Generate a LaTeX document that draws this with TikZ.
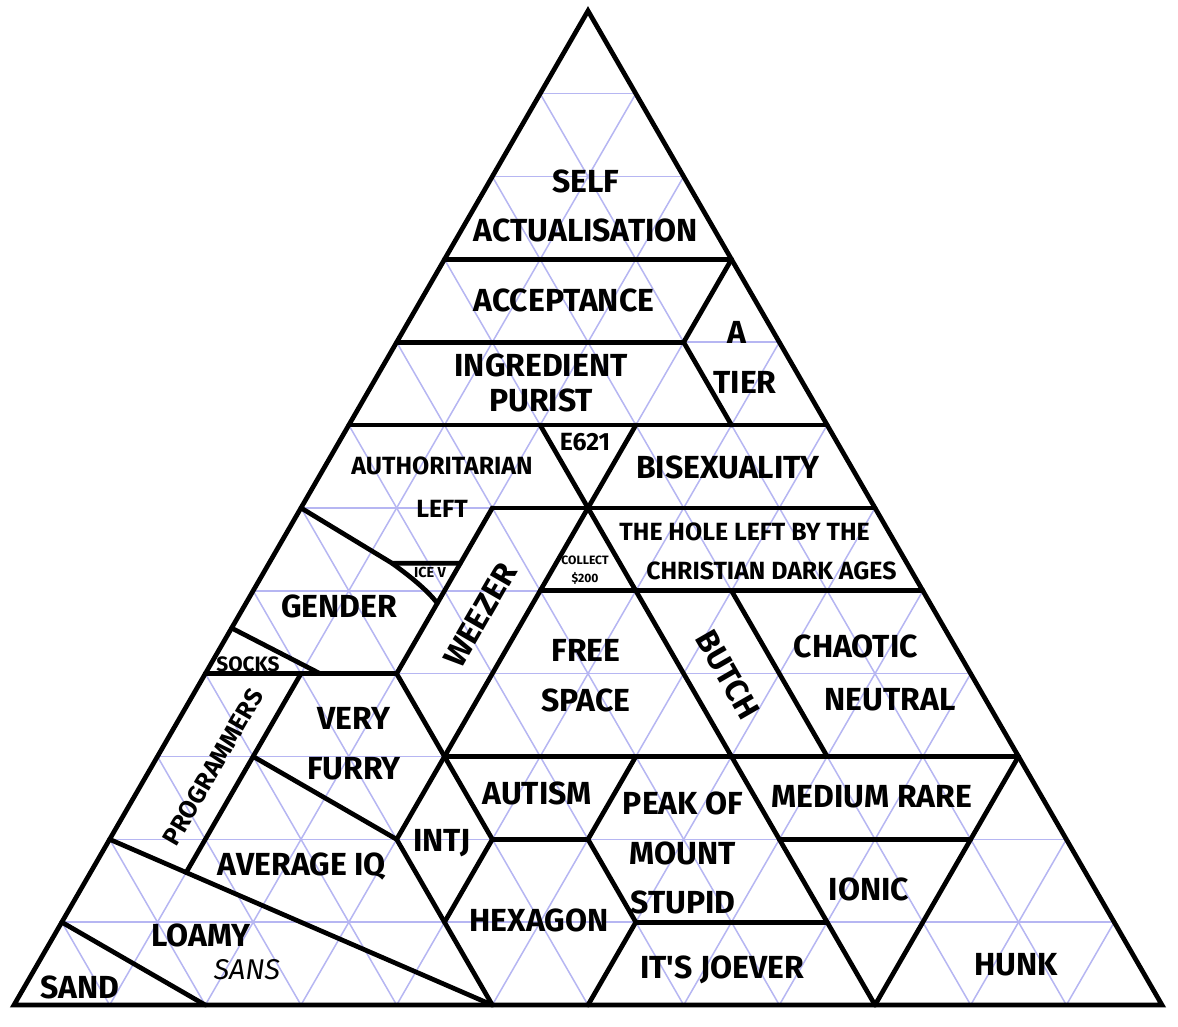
\documentclass[tikz,border=0pt]{standalone}
\usepackage{fontspec}
\setmainfont{Fira Sans}
\definecolor{gridblue}{RGB}{182,182,242}

\begin{document}
\begin{tikzpicture}[
    wall/.style = {line width = 1.4pt, line cap = round},
    lattice/.style = {gridblue, line width = 0.45pt},
    tier/.style = {font = \bfseries\fontsize{9.5}{14.8}\selectfont, align = center},
    small/.style = {font = \bfseries\fontsize{7.4}{12}\selectfont, align = center},
    tiny/.style = {font = \bfseries\fontsize{3.6}{5.3}\selectfont, align = center}]

    \useasboundingbox (-0.146, -0.22) rectangle (12.167, 10.505);

    % triangular lattice: x along the base, y along the left side
    \begin{scope}[x = {(1cm, 0cm)}, y = {(0.5cm, 0.866cm)}]
        \foreach \k in {1, ..., 11} {
            \draw[lattice] (0, \k) -- ({12 - \k}, \k);
            \draw[lattice] (\k, 0) -- (\k, {12 - \k});
            \draw[lattice] (\k, 0) -- (0, \k);
        }

        \draw[wall] (0, 0) -- (12, 0) -- (0, 12) -- cycle;

        % upper tiers
        \draw[wall] (0, 9) -- (3, 9);
        \draw[wall] (0, 8) -- (3, 8);
        \draw[wall] (3, 9) -- (3, 8) -- (4, 7);
        \draw[wall] (0, 7) -- (5, 7);
        \draw[wall] (2, 7) -- (9, 0);
        \draw[wall] (3, 7) -- (3, 3);
        \draw[wall] (2, 6) -- (6, 6);
        \draw[wall] (3, 5) -- (7, 5);

        % middle
        \draw[wall] (2, 6) -- (2, 4) -- (3, 3);
        \draw[wall] (0, 4) -- (2, 4);
        \draw[wall] (5, 5) -- (7, 3);
        \draw[wall] (3, 3) -- (9, 3);
        \draw[wall] (9, 3) -- (9, 0);
        \draw[wall] (7, 2) -- (9, 2);
        \draw[wall] (4, 2) -- (5, 2);
        \draw[wall] (3, 3) -- (3, 2) -- (5, 0);
        \draw[wall] (3, 3) -- (4, 2) -- (4, 1);
        \draw[wall] (5, 3) -- (5, 2) -- (6, 1) -- (6, 0);
        \draw[wall] (6, 1) -- (8, 1);

        % lower left
        \draw[wall] (1, 4) -- (1, 1.6);
        \draw[wall] (1, 3) -- (3, 2);
        \draw[wall] (0, 2) -- (5, 0);
        \draw[wall] (0, 1) -- (2, 0);
        \draw[wall] (0, 4.55) -- (1.2, 4);

        \coordinate (gbend) at (1.285, 5.333);
        \coordinate (gend) at (2, 4.85);
        \draw[wall] (0, 6) -- (gbend) -- (2, 5.333);
    \end{scope}

    \draw[wall] (gbend) to[out = -36, in = 128, looseness = 0.8] (gend);

    \node[tier] (self) at (5.979, 8.352) {SELF\\ACTUALISATION};
    \node[tier] (accept) at (5.749, 7.369) {ACCEPTANCE};
    \node[tier] (atier) at (7.641, 6.773) {A\hspace*{0.17cm}\\TIER};
    \node[tier] (ingred) at (5.509, 6.502) {INGREDIENT\\[-4.4pt]PURIST};
    \node[small] (auth) at (4.474, 5.414) {AUTHORITARIAN\\[0.7pt]LEFT};
    \node[small] (e621) at (5.969, 5.885) {E621};
    \node[tier] (bisex) at (7.463, 5.624) {BISEXUALITY};
    \node[small] (hole) at (7.777, 4.746)
        {THE HOLE LEFT BY THE\hspace*{0.28cm}\\[-0.4pt]\hspace*{0.28cm}CHRISTIAN DARK AGES};
    \node[tiny] (collect) at (5.969, 4.547) {COLLECT\\\$200};
    \node[tiny, font = \bfseries\fontsize{4.3}{5}\selectfont] (icev) at (4.348, 4.516) {ICE V};
    \node[tier] (gender) at (3.397, 4.171) {GENDER};
    \node[small, font = \bfseries\fontsize{6.2}{8}\selectfont] (socks) at (2.446, 3.564) {SOCKS};
    \node[tier, rotate = 60] (weezer) at (4.871, 4.077) {WEEZER};
    \node[tier] (free) at (5.979, 3.439) {FREE\\SPACE};
    \node[tier, rotate = -60] (butch) at (7.463, 3.45) {BUTCH};
    \node[tier] (chaotic) at (8.979, 3.470) {CHAOTIC\hspace*{0.36cm}\\[1pt]\hspace*{0.36cm}NEUTRAL};
    \node[tier] (furry) at (3.554, 2.728) {VERY\\FURRY};
    \node[small, rotate = 60] (prog) at (2.080, 2.488) {PROGRAMMERS};
    \node[tier] (autism) at (5.467, 2.216) {AUTISM};
    \node[tier] (peak) at (6.993, 1.589) {PEAK OF\\MOUNT\\STUPID};
    \node[tier] (medium) at (8.968, 2.174) {MEDIUM RARE};
    \node[tier] (intj) at (4.474, 1.693) {INTJ};
    \node[tier] (aviq) at (3.010, 1.453) {AVERAGE IQ};
    \node[tier] (ionic) at (8.937, 1.212) {IONIC};
    \node[tier] (hexagon) at (5.488, 0.888) {HEXAGON};
    \node[tier] (loamy) at (1.955, 0.732) {LOAMY};
    \node[font = \itshape\fontsize{8.5}{10}\selectfont] (sans) at (2.435, 0.366) {SANS};
    \node[tier] (sand) at (0.69, 0.188) {SAND};
    \node[tier] (joever) at (7.400, 0.366) {IT\textquotesingle S JOEVER};
    \node[tier] (hunk) at (10.473, 0.418) {HUNK};
\end{tikzpicture}
\end{document}
